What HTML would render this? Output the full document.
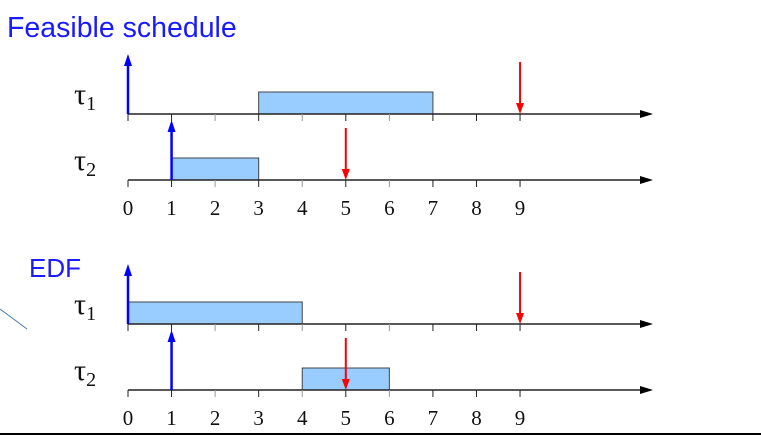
<!DOCTYPE html>
<html><head><meta charset="utf-8"><style>
html,body{margin:0;padding:0;background:#fff;width:761px;height:443px;overflow:hidden}
svg{display:block}
</style></head><body>
<svg id="c" width="761" height="443" viewBox="0 0 761 443" xmlns="http://www.w3.org/2000/svg">
<text x="7" y="37" font-family="Liberation Sans, sans-serif" font-size="28.5" fill="#1a1aff">Feasible schedule</text>
<text x="29" y="277" font-family="Liberation Sans, sans-serif" font-size="26" fill="#1a1aff">EDF</text>
<line x1="0" y1="309" x2="27" y2="329" stroke="#4a7ab8" stroke-width="1"/>
<line x1="0" y1="434" x2="761" y2="434" stroke="#000" stroke-width="2"/>
</svg>
<script>
const ticks = [0,1,2,3,4,5,6,7,8,9];
const panels = ["feasible","edf"];
const panelY = [0, 210];
const tasks = ["τ1","τ2"];
const feasibleBars = [[0,3,7],[1,1,3]];
const edfBars = [[0,0,4],[1,4,6]];
const releases = [[0,0],[1,1]];
const deadlines = [[0,9],[1,5]];

const svg = document.getElementById('c');
const NS = 'http://www.w3.org/2000/svg';
const X = t => 128 + t * 43.56;
const axisY = [114, 180];
function mk(tag, attrs){const e=document.createElementNS(NS,tag);for(const k in attrs)e.setAttribute(k,attrs[k]);svg.appendChild(e);return e;}

panels.forEach((p, pi) => {
  const off = panelY[pi];
  const bars = pi === 0 ? feasibleBars : edfBars;
  tasks.forEach((t, ti) => {
    const y = axisY[ti] + off;
    const lab = mk('text', {x: 74, y: y - 10, 'font-family': 'Liberation Serif, serif', 'font-size': 30, fill: '#111'});
    lab.textContent = 'τ';
    const sub = document.createElementNS(NS,'tspan');
    sub.setAttribute('font-size','20'); sub.setAttribute('dy','6'); sub.textContent = String(ti+1);
    lab.appendChild(sub);
    
    
  });
  bars.forEach(b => {
    const y = axisY[b[0]] + off;
    const r = mk('rect', {x: X(b[1]), y: y - 22, width: X(b[2]) - X(b[1]), height: 22, fill: '#99ccff', stroke: '#444', 'stroke-width': 1});
    
    
  });
  tasks.forEach((t, ti) => {
    const y = axisY[ti] + off;
    const ax = mk('line', {x1: 128, y1: y, x2: 642, y2: y, stroke: '#222', 'stroke-width': 1.5});
    
    
    const ah = mk('path', {d: `M640,${y-4} L653,${y} L640,${y+4} Z`, fill: '#000'});
    
    
    ticks.forEach(k => {
      const tk = mk('line', {x1: X(k), y1: y, x2: X(k), y2: y + 7, stroke: (k===2||k===4||k===6)? '#999':'#222', 'stroke-width': 1});
      
      
    });
  });
  ticks.forEach(k => {
    const tl = mk('text', {x: X(k), y: axisY[1] + off + 35, 'text-anchor': 'middle', 'font-family': 'Liberation Serif, serif', 'font-size': 21, fill: '#111'});
    tl.textContent = k;
    
    
  });
  releases.forEach(r => {
    const y = axisY[r[0]] + off;
    const x = X(r[1]);
    const a = mk('line', {x1: x, y1: y, x2: x, y2: y - 50, stroke: '#0000ff', 'stroke-width': 2.5});
    
    
    const h = mk('path', {d: `M${x-4},${y-48} L${x},${y-60} L${x+4},${y-48} Z`, fill: '#0000ff'});
    
    
  });
  deadlines.forEach(d => {
    const y = axisY[d[0]] + off;
    const x = X(d[1]);
    const a = mk('line', {x1: x, y1: y - 52, x2: x, y2: y - 8, stroke: '#ff0000', 'stroke-width': 2});
    
    
    const h = mk('path', {d: `M${x-4},${y-11} L${x},${y} L${x+4},${y-11} Z`, fill: '#ff0000'});
    
    
  });
});
</script>
</body></html>
